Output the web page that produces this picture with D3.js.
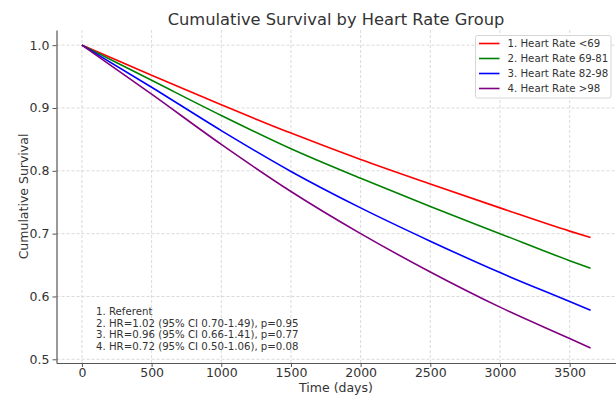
<!DOCTYPE html>
<html>
<head>
<meta charset="utf-8">
<script src="https://cdn.jsdelivr.net/npm/d3@7"></script>
<style>
  body { margin: 0; background: #fff; }
  text { font-family: "DejaVu Sans", sans-serif; fill: #333; }
</style>
</head>
<body>
<div id="chart"></div>
<script>
// Time points (days) and survival per group
var days = [0, 500, 1000, 1500, 2000, 2500, 3000, 3500, 3650];
var group1 = [1.0, 0.952, 0.905, 0.860, 0.818, 0.779, 0.741, 0.704, 0.694];
var group2 = [1.0, 0.944, 0.888, 0.835, 0.788, 0.743, 0.700, 0.657, 0.645];
var group3 = [1.0, 0.933, 0.864, 0.799, 0.741, 0.688, 0.638, 0.592, 0.578];
var group4 = [1.0, 0.922, 0.842, 0.767, 0.700, 0.639, 0.583, 0.533, 0.518];
var groupNames = ["1. Heart Rate <69", "2. Heart Rate 69-81", "3. Heart Rate 82-98", "4. Heart Rate >98"];
var groupColors = ["#ff0000", "#008000", "#0000ff", "#800080"];
var xTicks = [0, 500, 1000, 1500, 2000, 2500, 3000, 3500];
var yTicks = [0.5, 0.6, 0.7, 0.8, 0.9, 1.0];
var notes = [
  "1. Referent",
  "2. HR=1.02 (95% CI 0.70-1.49), p=0.95",
  "3. HR=0.96 (95% CI 0.66-1.41), p=0.77",
  "4. HR=0.72 (95% CI 0.50-1.06), p=0.08"
];

var W = 616, H = 397;
var plot = {left: 56.5, right: 616, top: 30, bottom: 363};

var svg = d3.select("#chart").append("svg")
  .attr("width", W).attr("height", H);

// matplotlib-like 5% margins
var x = d3.scaleLinear().domain([-182.5, 3832.5]).range([plot.left, plot.right]);
var y = d3.scaleLinear().domain([0.4941, 1.0241]).range([plot.bottom, plot.top]);

// Grid
svg.append("g").selectAll("line.gx").data(xTicks).enter().append("line")
  .attr("x1", d => x(d)).attr("x2", d => x(d))
  .attr("y1", plot.top).attr("y2", plot.bottom)
  .attr("stroke", "#d0d0d0").attr("stroke-width", 0.8).attr("stroke-dasharray", "3,2");
svg.append("g").selectAll("line.gy").data(yTicks).enter().append("line")
  .attr("x1", plot.left).attr("x2", plot.right)
  .attr("y1", d => y(d)).attr("y2", d => y(d))
  .attr("stroke", "#d0d0d0").attr("stroke-width", 0.8).attr("stroke-dasharray", "3,2");

// Axes
var xAxis = svg.append("g")
  .attr("transform", "translate(0," + plot.bottom + ")")
  .call(d3.axisBottom(x).tickValues(xTicks).tickFormat(d3.format("d")).tickSize(4).tickSizeOuter(0));
var yAxis = svg.append("g")
  .attr("transform", "translate(" + plot.left + ",0)")
  .call(d3.axisLeft(y).tickValues(yTicks).tickFormat(d3.format(".1f")).tickSize(4).tickSizeOuter(0));
[xAxis, yAxis].forEach(function (a) {
  a.select(".domain").attr("stroke", "#555").attr("stroke-width", 1.2);
  a.selectAll(".tick line").attr("stroke", "#555");
  a.selectAll(".tick text").style("font-size", "12.5px").attr("fill", "#333")
    .style("font-family", "DejaVu Sans, sans-serif");
});
xAxis.selectAll(".tick text").attr("y", 5);
yAxis.selectAll(".tick text").attr("x", -7);

// Lines
var series = [group1, group2, group3, group4];
var line = d3.line()
  .x(function (d, i) { return x(days[i]); })
  .y(function (d) { return y(d); })
  .curve(d3.curveMonotoneX);
svg.append("g").selectAll("path.series").data(series).enter().append("path")
  .attr("d", line)
  .attr("fill", "none")
  .attr("stroke", (d, i) => groupColors[i])
  .attr("stroke-width", 1.6);

// Title and axis labels
svg.append("text").attr("x", 336).attr("y", 25).attr("text-anchor", "middle")
  .style("font-size", "16.3px").text("Cumulative Survival by Heart Rate Group");
svg.append("text").attr("x", 336).attr("y", 392).attr("text-anchor", "middle")
  .style("font-size", "12.5px").text("Time (days)");
svg.append("text").attr("transform", "translate(28," + ((plot.top + plot.bottom) / 2) + ") rotate(-90)")
  .attr("text-anchor", "middle").style("font-size", "12.5px").text("Cumulative Survival");

// Legend
var legend = svg.append("g").attr("transform", "translate(475.5,35.5)");
legend.append("rect").attr("width", 135.5).attr("height", 62.5).attr("rx", 2)
  .attr("fill", "#fff").attr("fill-opacity", 0.85)
  .attr("stroke", "#ccc").attr("stroke-width", 0.8);
var item = legend.selectAll("g.item").data(groupNames).enter().append("g")
  .attr("transform", (d, i) => "translate(0," + (8 + i * 15) + ")");
item.append("line").attr("x1", 3.5).attr("x2", 24).attr("y1", 0).attr("y2", 0)
  .attr("stroke", (d, i) => groupColors[i]).attr("stroke-width", 1.6);
item.append("text").attr("x", 32).attr("y", 3.6).style("font-size", "10.2px").text(d => d);

// Hazard ratio notes
svg.append("g").selectAll("text.note").data(notes).enter().append("text")
  .attr("x", 96).attr("y", (d, i) => 315 + i * 11.6)
  .style("font-size", "10.2px").text(d => d);
</script>
</body>
</html>
